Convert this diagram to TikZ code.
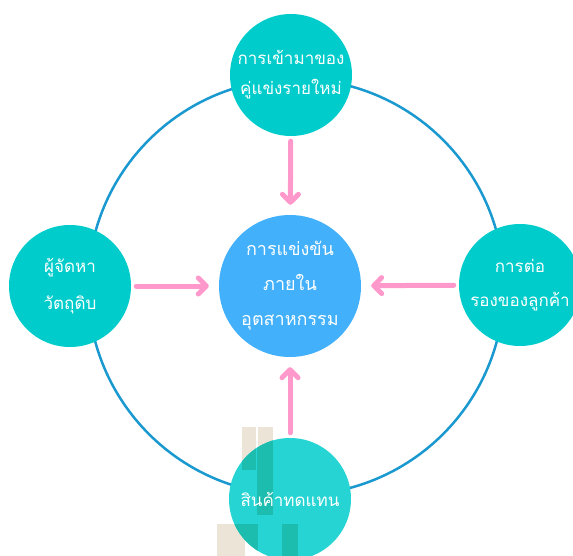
\documentclass[tikz,border=0pt]{standalone}
\usepackage{fontspec}
\newfontfamily\thaifont[Script=Thai]{Loma}
\usetikzlibrary{arrows.meta}
\definecolor{ringblue}{RGB}{26,152,208}
\definecolor{forcecyan}{RGB}{0,204,204}
\definecolor{subcyan}{RGB}{38,212,212}
\definecolor{coreblue}{RGB}{66,176,250}
\definecolor{pushpink}{RGB}{255,153,204}
\definecolor{markbeige}{RGB}{236,229,215}
\definecolor{markteal}{RGB}{28,188,174}

\begin{document}
\begin{tikzpicture}[x=1pt, y=-1pt,
    every node/.style={circle, inner sep=0pt, align=center, text=white,
      font=\thaifont\fontsize{17}{34}\selectfont},
    force/.style={fill=forcecyan, minimum size=122pt},
    core/.style={fill=coreblue, minimum size=142pt},
    push/.style={draw=pushpink, line width=5pt, line cap=round,
      -{Straight Barb[length=8pt, width=16pt, round]},
      shorten <=5pt, shorten >=10pt}]
    \clip (0,0) rectangle (573,556);
    % outer ring
    \draw[ringblue, line width=2.5pt] (296,287) circle[radius=208];
    % watermark behind the lower circle
    \fill[markbeige] (242,427) rectangle (256,470);
    \fill[markbeige] (258,427) rectangle (273,470);
    \fill[markbeige] (217,524) rectangle (245,556);
    \node[core, font=\thaifont\fontsize{18}{35}\selectfont] (core) at (290,286) {การแข่งขัน\\ภายใน\\อุตสาหกรรม};
    \node[force, font=\thaifont\fontsize{17}{30}\selectfont] (entrant) at (291,75) {การเข้ามาของ\\คู่แข่งรายใหม่};
    \node[force, font=\thaifont\fontsize{17}{37}\selectfont] (supplier) at (70,286) {ผู้จัดหา\\วัตถุดิบ};
    \node[force] (buyer) at (520,285) {การต่อ\\รองของลูกค้า};
    \node[force, fill=subcyan, path picture={
        \fill[markteal] ([shift={(-33,-72)}]path picture bounding box.center) rectangle ++(16,88);
        \fill[markteal] ([shift={(-48,-72)}]path picture bounding box.center) rectangle ++(14,43);
        \fill[markteal] ([shift={(-73,25)}]path picture bounding box.center) rectangle ++(41,40);
        \fill[markteal] ([shift={(-8,25)}]path picture bounding box.center) rectangle ++(16,40);
      }] (substitute) at (290,499) {สินค้าทดแทน};
    % forces pushing on the industry
    \draw[push] (entrant) -- (core);
    \draw[push] (supplier) -- (core);
    \draw[push] (buyer) -- (core);
    \draw[push] (substitute) -- (core);
\end{tikzpicture}
\end{document}
